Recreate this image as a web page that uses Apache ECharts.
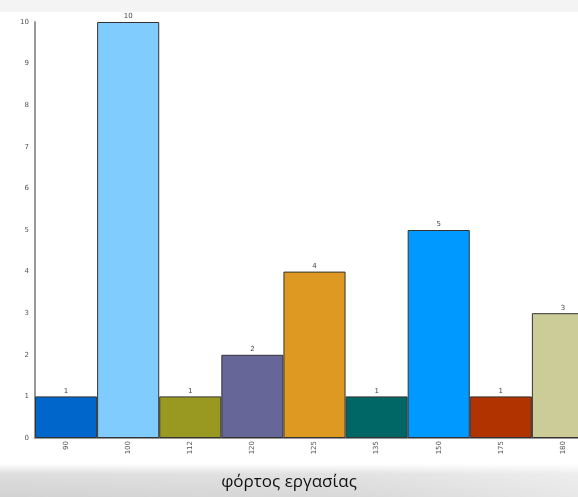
<!DOCTYPE html>
<html>
<head>
<meta charset="utf-8">
<script src="https://cdn.jsdelivr.net/npm/echarts@6/dist/echarts.min.js"></script>
<style>html,body{margin:0;padding:0;background:#fff;overflow:hidden;width:578px;height:497px}#c{width:594px;height:497px}</style>
</head>
<body>
<div id="c"></div>
<script>
var categories = ['90', '100', '112', '120', '125', '135', '150', '175', '180'];
var values = [1, 10, 1, 2, 4, 1, 5, 1, 3];
var barColors = ['#0066cc', '#80ccff', '#999922', '#666699', '#dd9922', '#006666', '#0099ff', '#b03300', '#cccc99'];
var yTicks = [0, 1, 2, 3, 4, 5, 6, 7, 8, 9, 10];
var titleText = 'φόρτος εργασίας';

var chart = echarts.init(document.getElementById('c'));
chart.setOption({
  animation: false,
  backgroundColor: '#ffffff',
  graphic: [
    { type: 'rect', z: -10, silent: true, shape: { x: 0, y: 0, width: 594, height: 12 }, style: { fill: '#f4f4f4' } },
    { type: 'rect', z: -10, silent: true, shape: { x: 0, y: 464, width: 594, height: 33 },
      style: { fill: new echarts.graphic.LinearGradient(0, 0, 0, 1, [
        { offset: 0, color: 'rgba(220,220,220,0)' },
        { offset: 0.3, color: 'rgba(220,220,220,0.95)' },
        { offset: 1, color: 'rgba(210,210,210,1)' }
      ]) } },
    { type: 'rect', z: -9, silent: true, shape: { x: 0, y: 464, width: 594, height: 33 },
      style: { fill: new echarts.graphic.LinearGradient(0, 0, 1, 0, [
        { offset: 0, color: 'rgba(255,255,255,0)' },
        { offset: 0.6, color: 'rgba(255,255,255,0.15)' },
        { offset: 1, color: 'rgba(255,255,255,0.5)' }
      ]) } },
    { type: 'text', z: 10, silent: true, x: 289, y: 482,
      style: { text: titleText, textAlign: 'center', textVerticalAlign: 'middle',
        fontFamily: 'Open Sans', fontSize: 17, fill: '#111' } }
  ],
  grid: { left: 35, right: 0, top: 22, bottom: 59, containLabel: false },
  xAxis: {
    type: 'category',
    data: categories,
    axisLine: { lineStyle: { color: '#999', width: 2 } },
    axisTick: { show: false },
    axisLabel: { rotate: 90, fontSize: 7, color: '#555', margin: 3, fontFamily: 'DejaVu Sans' }
  },
  yAxis: {
    type: 'value',
    min: 0,
    max: 10,
    interval: 1,
    axisLine: { show: true, lineStyle: { color: '#999', width: 2 } },
    axisTick: { show: false },
    splitLine: { show: false },
    axisLabel: {
      fontSize: 7, color: '#555', margin: 6, fontFamily: 'DejaVu Sans',
      formatter: function (v) { return yTicks.indexOf(v) >= 0 ? String(v) : ''; }
    }
  },
  series: [{
    type: 'bar',
    data: values.map(function (v, i) { return { value: v, itemStyle: { color: barColors[i] } }; }),
    barCategoryGap: '0%',
    itemStyle: { borderColor: '#333', borderWidth: 1 },
    label: { show: true, position: 'top', distance: 2, fontSize: 7, color: '#444', fontFamily: 'DejaVu Sans' }
  }]
});
</script>
</body>
</html>
